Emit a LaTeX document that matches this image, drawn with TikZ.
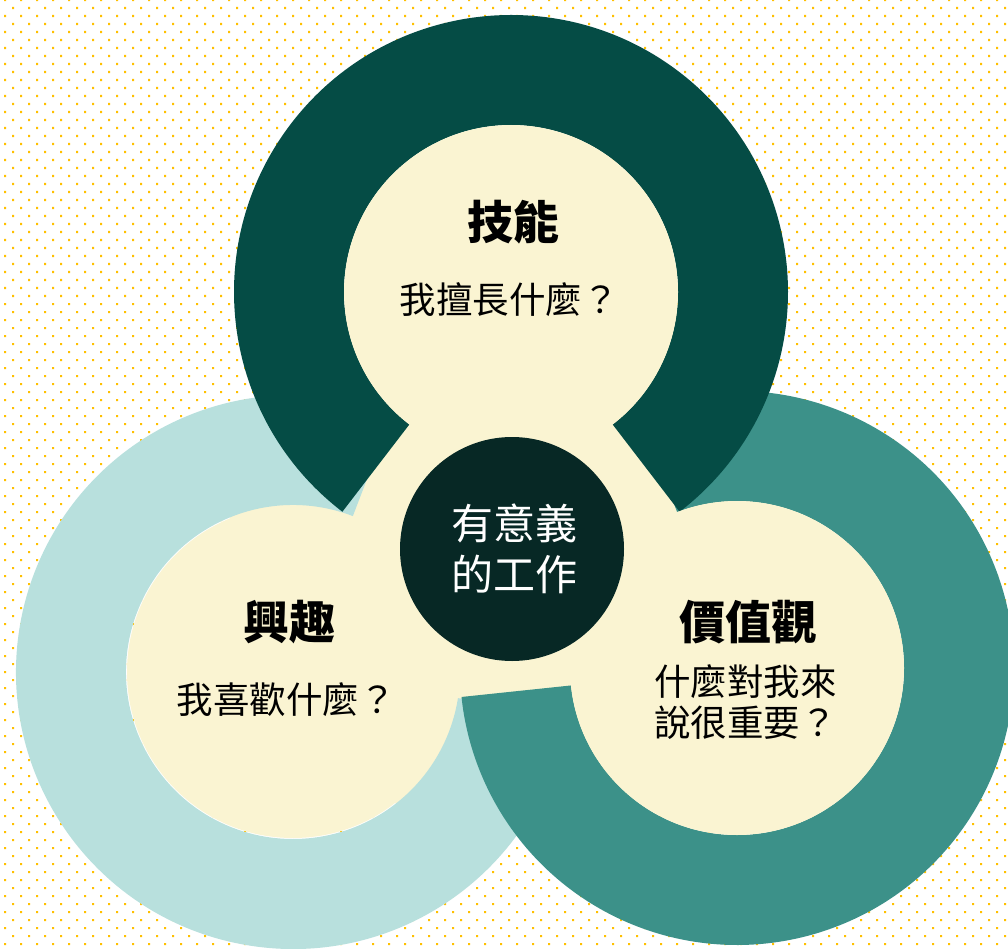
\documentclass[tikz,border=0pt]{standalone}
\usepackage{fontspec}
\newfontfamily\cjk{Noto Sans CJK TC}
\usetikzlibrary{calc}
\definecolor{dotc}{HTML}{FFC000}
\definecolor{darkg}{HTML}{054C45}
\definecolor{tealg}{HTML}{3C9189}
\definecolor{lightg}{HTML}{B8E0DD}
\definecolor{creamc}{HTML}{FAF4D2}
\definecolor{centerc}{HTML}{072825}
\newcommand\myring[5]{%
  \fill[#5] ($(#1,#2)+(#3:277)$) arc[start angle=#3, end angle=#4, radius=277]
    -- ($(#1,#2)+(#4:167)$) arc[start angle=#4, end angle=#3, radius=167] -- cycle;}
\tikzset{
  titletext/.style={font=\cjk\bfseries\fontsize{46}{50}\selectfont, text=black, inner sep=0pt},
  subtext/.style={font=\cjk\fontsize{36.5}{42}\selectfont, text=black, inner sep=0pt},
  centertext/.style={font=\cjk\fontsize{42}{50}\selectfont, text=white, inner sep=0pt},
  innerdisc/.style={fill=creamc}
}
\begin{document}
\begin{tikzpicture}[x=1pt,y=-1pt]
\useasboundingbox (0,0) rectangle (1008,949);
\fill[white] (0,0) rectangle (1008,949);
% dotted background
\fill[dotc] foreach \r in {0,...,59} { foreach \c in {0,...,62} {
  (4+16*\c, 16*\r-1) rectangle ++(2.2,2.2)
  (12+16*\c, 16*\r+7) rectangle ++(2.2,2.2) } };
% cream core behind ring gaps
\fill[creamc] (514,544) circle[radius=285];
% rings (left bottom, right middle, top on top)
\myring{293}{672}{9}{291}{lightg}
\myring{737}{668}{249}{534}{tealg}
\myring{511}{292}{127.5}{412.5}{darkg}
% inner discs
\fill[innerdisc] (511,292) circle[radius=167];
\fill[innerdisc] (293,672) circle[radius=166];
\fill[innerdisc] (737,668) circle[radius=167];
% center disc
\node[circle, fill=centerc, minimum size=224pt, inner sep=0pt] (core) at (512,549) {};
% texts
\node[titletext] (skillT) at (513,222) {技能};
\node[subtext] (skillQ) at (509,300) {我擅長什麼？};
\node[titletext] (interT) at (289,622) {興趣};
\node[subtext] (interQ) at (286,700) {我喜歡什麼？};
\node[titletext] (valueT) at (748,622) {價值觀};
\node[subtext, anchor=west] (valueQ1) at (654,682) {什麼對我來};
\node[subtext, anchor=west] (valueQ2) at (654,723) {說很重要？};
\node[centertext] (coreA) at (514,523) {有意義};
\node[centertext] (coreB) at (514,574) {的工作};
\end{tikzpicture}
\end{document}
